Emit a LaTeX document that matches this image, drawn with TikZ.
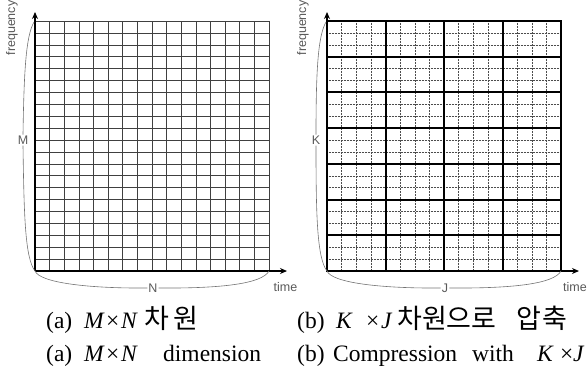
\documentclass[tikz,border=0pt]{standalone}
\usepackage{fontspec}
\setmainfont{Liberation Serif}
\newfontfamily\lblfont{Liberation Sans}
\newfontfamily\kofont{Noto Sans CJK KR}
\usetikzlibrary{arrows.meta}
\begin{document}
\begin{tikzpicture}[x=1pt,y=-1pt,
  gridline/.style={black!75,line width=0.55pt},
  fineline/.style={black!70,line width=0.5pt,densely dotted},
  blockline/.style={black,line width=2pt},
  axisline/.style={black,line width=1.2pt,-{Stealth[length=7pt,width=6pt]}},
  braceline/.style={black!55,line width=0.6pt},
  lbl/.style={font=\lblfont\fontsize{12.5}{14}\selectfont,text=black!65,inner sep=1pt},
  captext/.style={font=\fontsize{23.5}{26}\selectfont,anchor=base west,inner sep=0pt}]
\useasboundingbox (0,0) rectangle (587,373);
\newcommand\kor{\kofont\fontsize{27}{30}\selectfont}

% ---------- (a) left grid ----------
\foreach \i in {0,...,16}
  \draw[gridline] ({35+\i*14.625},21) -- ({35+\i*14.625},271);
\foreach \j in {0,...,21}
  \draw[gridline] (35,{21+\j*250/21}) -- (269,{21+\j*250/21});
\coordinate (oa) at (35,271);
\coordinate (ta) at (35,12);
\coordinate (ra) at (287,271);
\coordinate (tla) at (34,22);
\coordinate (bra) at (269,271);
\draw[axisline] (oa) -- (ta);
\draw[axisline] (oa) -- (ra);
\node[lbl,rotate=90] (fa) at (12,28) {frequency};
\node[lbl] (tma) at (285.5,287) {time};
\node[lbl] (M) at (23,140) {M};
\node[lbl] (N) at (153,288) {N};
\draw[braceline] (tla) .. controls (26,36) and (24,70) .. (M.north);
\draw[braceline] (M.south) .. controls (24,215) and (25,258) .. (oa);
\draw[braceline] (oa) .. controls (40,283) and (90,288.5) .. (N.west);
\draw[braceline] (N.east) .. controls (220,288.5) and (262,284) .. (bra);

% ---------- (b) right grid ----------
\foreach \i in {0,...,16}
  \draw[fineline] ({327+\i*14.625},21) -- ({327+\i*14.625},271);
\foreach \j in {0,...,21}
  \draw[fineline] (327,{21+\j*250/21}) -- (561,{21+\j*250/21});
\foreach \i in {0,...,4}
  \draw[blockline] ({327+\i*58.5},21) -- ({327+\i*58.5},271);
\foreach \j in {0,...,7}
  \draw[blockline] (326,{21+\j*250/7}) -- (562,{21+\j*250/7});
\coordinate (ob) at (327,271);
\coordinate (tb) at (327,12);
\coordinate (rb) at (579,271);
\coordinate (tlb) at (326,22);
\coordinate (brb) at (561,271);
\draw[axisline] (ob) -- (tb);
\draw[axisline] (ob) -- (rb);
\node[lbl,rotate=90] (fb) at (303,28) {frequency};
\node[lbl] (tmb) at (575,287) {time};
\node[lbl] (K) at (316,140) {K};
\node[lbl] (J) at (445,288) {J};
\draw[braceline] (tlb) .. controls (318,36) and (316,70) .. (K.north);
\draw[braceline] (K.south) .. controls (316,215) and (317,258) .. (ob);
\draw[braceline] (ob) .. controls (332,283) and (382,288.5) .. (J.west);
\draw[braceline] (J.east) .. controls (512,288.5) and (554,284) .. (brb);

% ---------- captions ----------
\node[captext] (c1) at (46,328) {\rlap{(a)}\hspace{38pt}\rlap{\textit{M}}\hspace{22pt}\rlap{×}\hspace{15pt}\rlap{\textit{N}}\hspace{23pt}{\kor\rlap{차}\hspace{29pt}원}};
\node[captext] (c2) at (46,361) {\rlap{(a)}\hspace{38pt}\rlap{\textit{M}}\hspace{22pt}\rlap{×}\hspace{15pt}\rlap{\textit{N}}\hspace{42pt}dimension};
\node[captext] (c3) at (297,328) {\rlap{(b)}\hspace{39pt}\rlap{\textit{K}}\hspace{30pt}\rlap{×}\hspace{15pt}\rlap{\textit{J}}\hspace{16pt}{\kor\rlap{차원으로}\hspace{119pt}압\hspace{1pt}축}};
\node[captext] (c4) at (297,361) {\rlap{(b)}\hspace{36pt}\rlap{Compression}\hspace{139pt}\rlap{with}\hspace{65pt}\rlap{\textit{K}}\hspace{23pt}\rlap{×}\hspace{13pt}\textit{J}};
\end{tikzpicture}
\end{document}
